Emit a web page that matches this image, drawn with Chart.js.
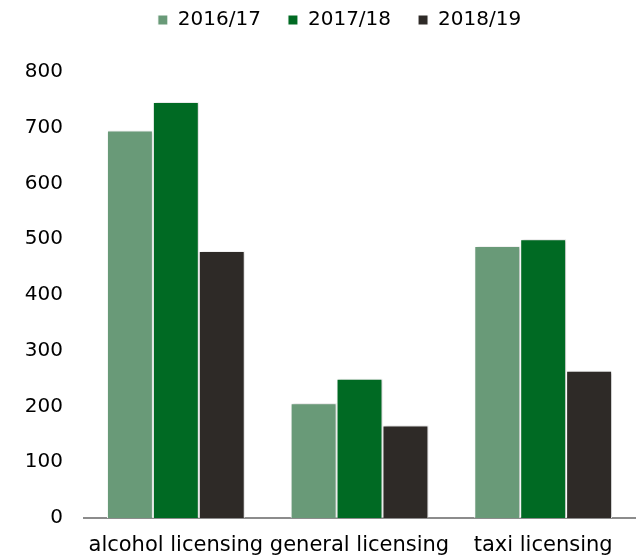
<!DOCTYPE html>
<html>
<head>
<meta charset="utf-8">
<script src="https://cdn.jsdelivr.net/npm/chart.js@4"></script>
<style>
  html, body { margin: 0; padding: 0; background: #fff; }
  #wrap { width: 642px; height: 560px; }
</style>
</head>
<body>
<div id="wrap"><canvas id="chart" width="642" height="560"></canvas></div>
<script>
const categories = ['alcohol licensing', 'general licensing', 'taxi licensing'];
const seriesNames = ['2016/17', '2017/18', '2018/19'];
const values2016 = [695, 206, 488];
const values2017 = [746, 250, 500];
const values2018 = [479, 166, 264];
const colours = ['#699a78', '#006a23', '#2e2a27'];

const ctx = document.getElementById('chart');
Chart.defaults.font.family = '"DejaVu Sans", "Liberation Sans", Arial, sans-serif';
Chart.defaults.color = '#000';

// extra room under the legend, legend nudged right
const legendGap = {
  id: 'legendGap',
  beforeInit(chart) {
    const fit = chart.legend.fit;
    chart.legend.fit = function () {
      fit.bind(chart.legend)();
      this.height += 32;
    };
  },
  afterLayout(chart) {
    chart.legend.left += 22;
    chart.legend.right += 22;
  }
};

// soft shadow on the bars
const barShadow = {
  id: 'barShadow',
  beforeDatasetsDraw(chart) {
    const c = chart.ctx;
    c.save();
    c.shadowColor = 'rgba(0,0,0,0.22)';
    c.shadowBlur = 3;
    c.shadowOffsetX = 1.5;
    c.shadowOffsetY = 0;
  },
  afterDatasetsDraw(chart) {
    chart.ctx.restore();
  }
};

new Chart(ctx, {
  type: 'bar',
  data: {
    labels: categories,
    datasets: [values2016, values2017, values2018].map((vals, i) => ({
      label: seriesNames[i],
      data: vals,
      backgroundColor: colours[i],
      borderColor: '#ffffff',
      borderWidth: 1,
      categoryPercentage: 0.75,
      barPercentage: 1.0
    }))
  },
  options: {
    responsive: false,
    animation: false,
    layout: { padding: { top: -17, right: 7, bottom: 2, left: 0 } },
    plugins: {
      legend: {
        position: 'top',
        labels: {
          boxWidth: 10,
          boxHeight: 10,
          padding: 27,
          font: { size: 20 },
          color: '#000'
        }
      },
      tooltip: { enabled: false }
    },
    scales: {
      x: {
        grid: { display: false, drawTicks: false },
        border: { display: true, color: '#8c8c8c', width: 2 },
        ticks: { font: { size: 21 }, padding: 15, color: '#000', maxRotation: 0, autoSkip: false },
        afterFit: (scale) => { scale.height = 40; }
      },
      y: {
        min: 0,
        max: 800,
        grid: { display: false, drawTicks: false },
        border: { display: false },
        ticks: { stepSize: 100, font: { size: 20 }, padding: 21, color: '#000' },
        afterFit: (scale) => { scale.width = 84; }
      }
    }
  },
  plugins: [legendGap, barShadow]
});
</script>
</body>
</html>
